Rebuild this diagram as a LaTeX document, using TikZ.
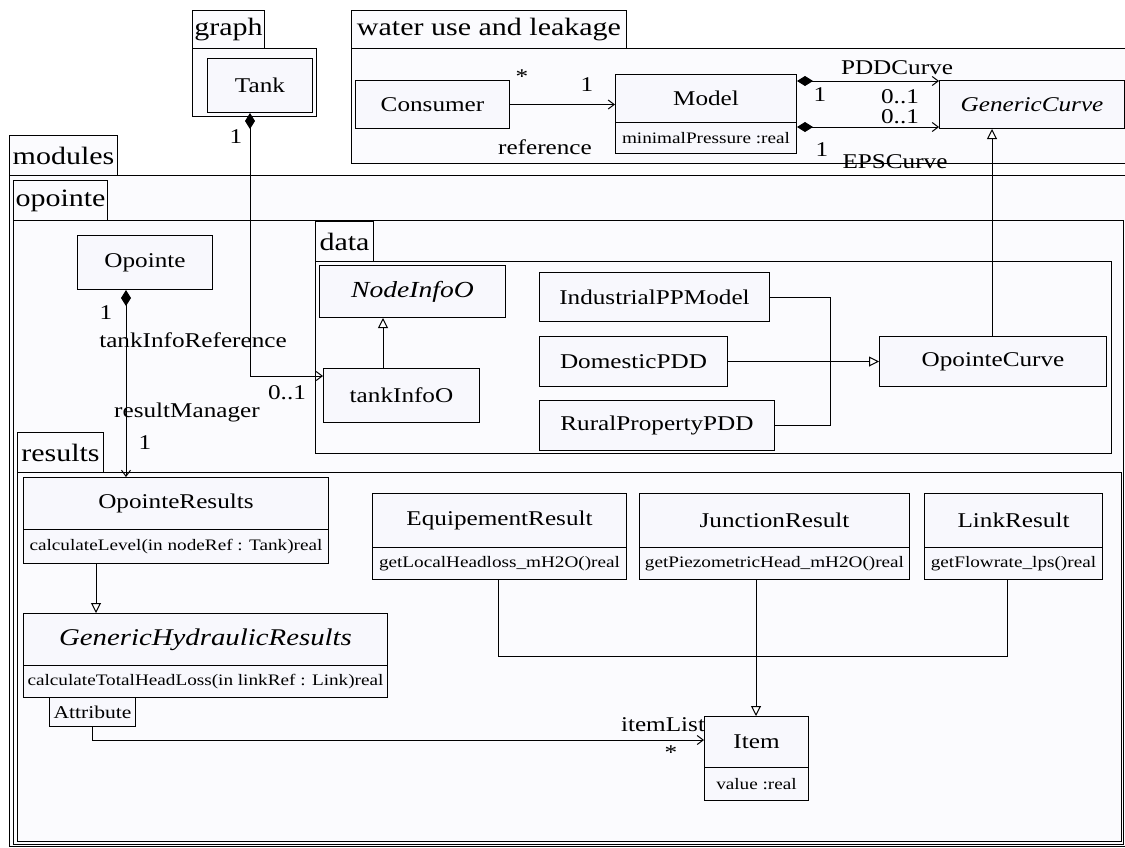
\documentclass[tikz,border=0pt]{standalone}
\usepackage{fontspec}
\setmainfont{Liberation Serif}[FakeStretch=1.2]
\usetikzlibrary{arrows.meta}
\definecolor{boxfill}{RGB}{248,248,253}
\definecolor{pkgfill}{RGB}{251,251,254}
\begin{document}
\begin{tikzpicture}[x=1pt,y=-1pt,
  cls/.style={draw, fill=boxfill, line width=1pt, inner sep=0pt, anchor=north west, font=\fontsize{21}{24}\selectfont},
  opbox/.style={cls, font=\fontsize{16}{19}\selectfont},
  tab/.style={draw, fill=pkgfill, line width=1pt, inner sep=0pt, anchor=north west, font=\fontsize{25}{28}\selectfont},
  pkg/.style={draw, fill=pkgfill, line width=1pt},
  lbl/.style={font=\fontsize{21}{24}\selectfont, inner sep=0pt},
  conn/.style={line width=1pt},
  comp/.style={conn, {Diamond[length=16pt,width=10pt]}-{Straight Barb[length=6pt,width=9pt]}},
  gen/.style={conn, -{Triangle[length=10pt,width=10pt,fill=white]}},
  assoc/.style={conn, -{Straight Barb[length=6pt,width=9pt]}}
]
\useasboundingbox[fill=white] (0,0) rectangle (1125,847);

% package bodies
\draw[pkg] (9,175) rectangle (1135,846);
\draw[pkg] (13,220) rectangle (1123,844);
\draw[pkg] (315,261) rectangle (1111,453);
\draw[pkg] (17,472) rectangle (1121,841);
\draw[pkg] (351,48) rectangle (1135,163);
\draw[pkg] (192,48) rectangle (316,116);

% tabs
\node[tab, minimum width=72pt, minimum height=38pt] (tgraph) at (192,10) {graph};
\node[tab, minimum width=275pt, minimum height=38pt] (twater) at (351,10) {water use and leakage};
\node[tab, minimum width=108pt, minimum height=40pt] (tmodules) at (9,135) {modules};
\node[tab, minimum width=94pt, minimum height=40pt] (topointe) at (13,180) {opointe};
\node[tab, minimum width=58pt, minimum height=40pt] (tdata) at (315,221) {data};
\node[tab, minimum width=86pt, minimum height=40pt] (tresults) at (17,432) {results};

% classes
\node[cls, minimum width=105pt, minimum height=54pt] (tank) at (207,58) {Tank};
\node[cls, minimum width=154pt, minimum height=48pt] (consumer) at (355,80) {Consumer};
\node[cls, minimum width=181pt, minimum height=48pt] (model) at (615,74) {Model};
\node[opbox, minimum width=181pt, minimum height=31pt] (modela) at (615,122) {minimalPressure :real};
\node[cls, minimum width=185pt, minimum height=48pt, font=\fontsize{21}{24}\selectfont\itshape] (gcurve) at (939,80) {GenericCurve};

\node[cls, minimum width=135pt, minimum height=54pt] (opointe) at (77,235) {Opointe};
\node[cls, minimum width=186pt, minimum height=52pt, font=\fontsize{23}{26}\selectfont\itshape] (nodeinfo) at (319,265) {NodeInfoO};
\node[cls, minimum width=156pt, minimum height=54pt] (tankinfo) at (323,368) {tankInfoO};
\node[cls, minimum width=230pt, minimum height=49pt] (industrial) at (539,272) {IndustrialPPModel};
\node[cls, minimum width=188pt, minimum height=50pt] (domestic) at (539,336) {DomesticPDD};
\node[cls, minimum width=235pt, minimum height=50pt] (rural) at (539,400) {RuralPropertyPDD};
\node[cls, minimum width=227pt, minimum height=50pt] (ocurve) at (879,336) {OpointeCurve};

\node[cls, minimum width=305pt, minimum height=52pt] (oresults) at (23,477) {OpointeResults};
\node[opbox, minimum width=305pt, minimum height=34pt] (oresultsops) at (23,529) {calculateLevel(in nodeRef : Tank)real};
\node[cls, minimum width=364pt, minimum height=52pt, font=\fontsize{24}{27}\selectfont\itshape] (ghr) at (23,613) {GenericHydraulicResults};
\node[opbox, minimum width=364pt, minimum height=32pt] (ghrops) at (23,665) {calculateTotalHeadLoss(in linkRef : Link)real};
\node[cls, minimum width=86pt, minimum height=29pt, font=\fontsize{18}{20}\selectfont] (attribute) at (49,697) {Attribute};

\node[cls, minimum width=254pt, minimum height=54pt] (equip) at (372,493) {EquipementResult};
\node[opbox, minimum width=254pt, minimum height=32pt] (equipops) at (372,547) {getLocalHeadloss\_mH2O()real};
\node[cls, minimum width=270pt, minimum height=54pt] (junction) at (639,493) {JunctionResult};
\node[opbox, minimum width=270pt, minimum height=32pt] (junctionops) at (639,547) {getPiezometricHead\_mH2O()real};
\node[cls, minimum width=178pt, minimum height=54pt] (link) at (924,493) {LinkResult};
\node[opbox, minimum width=178pt, minimum height=32pt] (linkops) at (924,547) {getFlowrate\_lps()real};
\node[cls, minimum width=104pt, minimum height=51pt] (item) at (704,716) {Item};
\node[opbox, minimum width=104pt, minimum height=33pt] (itema) at (704,767) {value :real};

% helper coordinates
\coordinate (tankx) at (250,0);
\coordinate (tiy) at (0,376);
\coordinate (pddy) at (0,81);
\coordinate (epsy) at (0,127);
\coordinate (gcx) at (992,0);
\coordinate (tix) at (383,0);
\coordinate (mx) at (830,0);
\coordinate (opx) at (126,0);
\coordinate (orx) at (96,0);
\coordinate (eqx) at (498,0);
\coordinate (lkx) at (1007,0);
\coordinate (jx) at (756,0);
\coordinate (jy) at (0,656);
\coordinate (aty) at (0,740);

% connectors
\draw[comp] (tank.south -| tankx) |- (tankinfo.west |- tiy);
\draw[assoc] (consumer.east) -- (consumer.east -| model.west);
\draw[comp] (model.north east |- pddy) -- (gcurve.west |- pddy);
\draw[comp] (modela.east |- epsy) -- (gcurve.west |- epsy);
\draw[gen] (ocurve.north -| gcx) -- (gcurve.south -| gcx);
\draw[gen] (tankinfo.north -| tix) -- (nodeinfo.south -| tix);
\draw[conn] (industrial.east) -| (mx |- rural.east) -- (rural.east);
\draw[gen] (domestic.east) -- (ocurve.west);
\draw[comp] (opointe.south -| opx) -- (oresults.north -| opx);
\draw[gen] (oresultsops.south -| orx) -- (ghr.north -| orx);
\draw[conn] (equipops.south -| eqx) |- (lkx |- jy) -- (linkops.south -| lkx);
\draw[gen] (junctionops.south -| jx) -- (item.north -| jx);
\draw[assoc] (attribute.south) |- (item.west |- aty);

% labels
\node[lbl] (m1) at (236,137) {1};
\node[lbl] (m2) at (287,393) {0..1};
\node[lbl] (r1) at (193,340) {tankInfoReference};
\node[lbl] (m3) at (106,313) {1};
\node[lbl] (r2) at (187,412) {resultManager};
\node[lbl] (m4) at (145,443) {1};
\node[lbl] (m5) at (522,77) {*};
\node[lbl] (m6) at (587,85) {1};
\node[lbl] (r3) at (545,147) {reference};
\node[lbl] (r4) at (897,68) {PDDCurve};
\node[lbl] (m7) at (820,95) {1};
\node[lbl] (m8) at (900,97) {0..1};
\node[lbl] (m9) at (900,117) {0..1};
\node[lbl] (m10) at (822,150) {1};
\node[lbl] (r5) at (895,162) {EPSCurve};
\node[lbl] (r6) at (663,725) {itemList};
\node[lbl] (m11) at (671,753) {*};
\end{tikzpicture}
\end{document}
